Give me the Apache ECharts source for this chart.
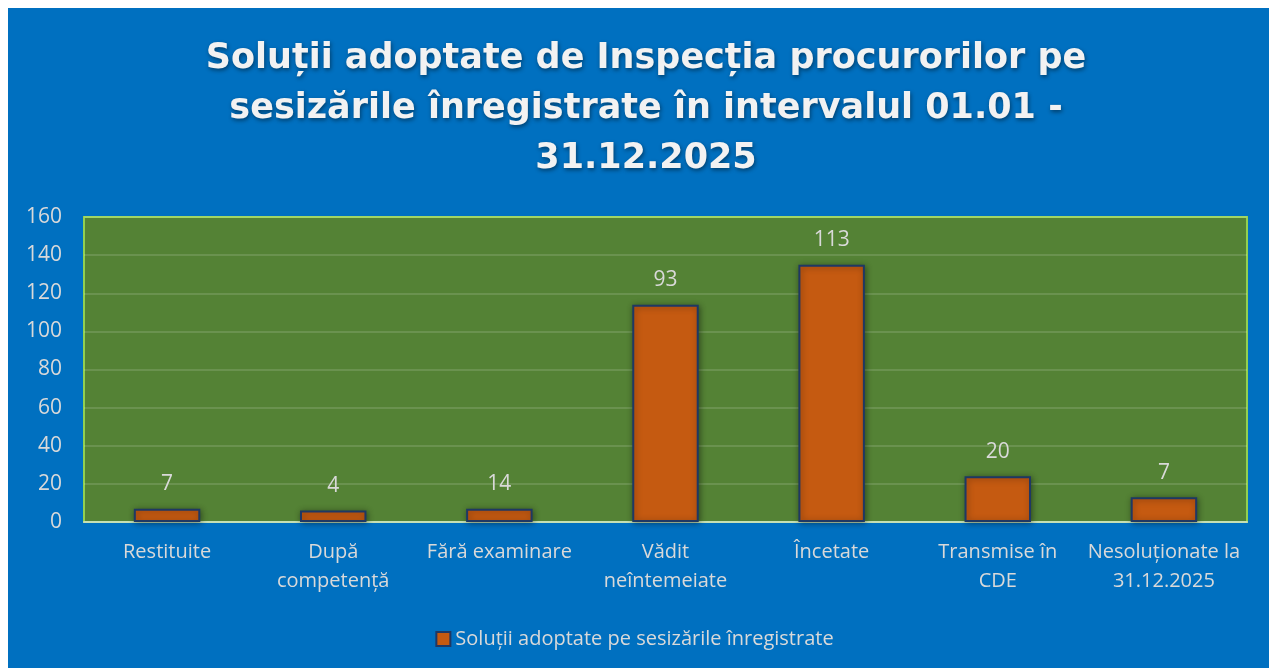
<!DOCTYPE html>
<html>
<head>
<meta charset="utf-8">
<script src="https://cdn.jsdelivr.net/npm/echarts@6/dist/echarts.min.js"></script>
<style>
  html, body { margin: 0; padding: 0; background: #fff; }
  #chart { width: 1269px; height: 668px; }
</style>
</head>
<body>
<div id="chart"></div>
<script>
// categories on the x axis
const categories = [
  "Restituite",
  "După\ncompetență",
  "Fără examinare",
  "Vădit\nneîntemeiate",
  "Încetate",
  "Transmise în\nCDE",
  "Nesoluționate la\n31.12.2025"
];
// bar heights as drawn in the picture
const barValues = [7, 6, 7, 114, 135, 24, 13];
// numbers printed above the bars
const labelValues = [7, 4, 14, 93, 113, 20, 7];
const yTicks = { min: 0, max: 160, interval: 20 };

const seriesName = "Soluții adoptate pe sesizările înregistrate";
const titleText = "Soluții adoptate de Inspecția procurorilor pe\nsesizările înregistrate în intervalul 01.01 -\n31.12.2025";

const font = "'Open Sans', 'Noto Sans', sans-serif";
const textColor = "#d9d9d9";

let chart = echarts.init(document.getElementById("chart"));
let option = {
  backgroundColor: "#ffffff",
  textStyle: { fontFamily: font },
  graphic: [
    {
      type: "rect",
      z: -10,
      silent: true,
      shape: { x: 8, y: 8, width: 1261, height: 660 },
      style: { fill: "#0070c0" }
    }
  ],
  title: {
    text: titleText,
    left: 641,
    top: 29,
    textAlign: "center",
    textStyle: {
      fontFamily: "'DejaVu Sans', sans-serif",
      fontSize: 35,
      fontWeight: "bold",
      color: "#f2f2f2",
      lineHeight: 50,
      textShadowColor: "rgba(0,0,0,0.45)",
      textShadowBlur: 4,
      textShadowOffsetX: 1,
      textShadowOffsetY: 2
    }
  },
  legend: {
    top: 624,
    left: "center",
    itemWidth: 14,
    itemHeight: 14,
    icon: "rect",
    textStyle: { color: textColor, fontSize: 20, fontFamily: font },
    data: [seriesName]
  },
  grid: {
    left: 84,
    right: 22,
    top: 217,
    bottom: 146,
    show: true,
    backgroundColor: "#548235",
    borderColor: "#92d050",
    borderWidth: 2
  },
  xAxis: {
    type: "category",
    data: categories,
    axisTick: { show: false },
    axisLine: {
      show: true,
      lineStyle: { color: "#c5e0b4", width: 2 }
    },
    axisLabel: {
      color: textColor,
      fontSize: 20,
      fontFamily: font,
      lineHeight: 29,
      margin: 16,
      interval: 0
    }
  },
  yAxis: {
    type: "value",
    min: yTicks.min,
    max: yTicks.max,
    interval: yTicks.interval,
    axisLine: { show: false },
    axisTick: { show: false },
    splitLine: {
      show: true,
      lineStyle: { color: "rgba(255,255,255,0.13)", width: 2 }
    },
    axisLabel: {
      color: textColor,
      fontSize: 21,
      fontFamily: font,
      margin: 22
    }
  },
  series: [
    {
      name: seriesName,
      type: "bar",
      data: barValues,
      barWidth: "40%",
      itemStyle: {
        color: "#c55a11",
        borderColor: "#1f3864",
        borderWidth: 2,
        shadowColor: "rgba(0,0,0,0.4)",
        shadowBlur: 6,
        shadowOffsetX: 1,
        shadowOffsetY: 1
      },
      label: {
        show: true,
        position: "top",
        distance: 14,
        color: textColor,
        fontSize: 21,
        fontFamily: font,
        formatter: function(params) {
          return labelValues[params.dataIndex];
        }
      }
    }
  ]
};
chart.setOption(option);
</script>
</body>
</html>
